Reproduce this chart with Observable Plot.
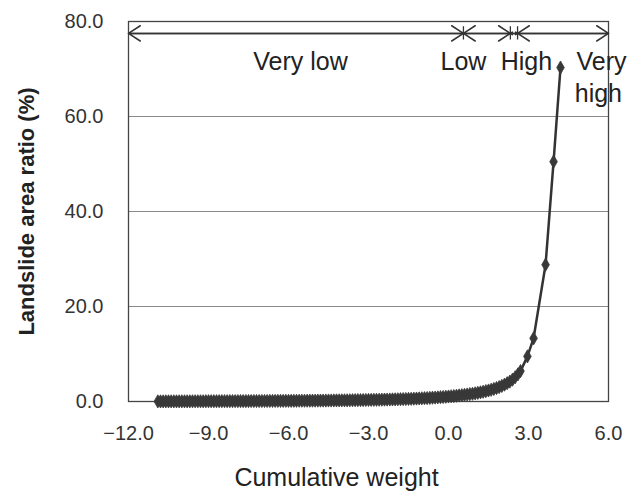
<!DOCTYPE html>
<html><head><meta charset="utf-8">
<script src="https://cdn.jsdelivr.net/npm/d3@7"></script>
<script src="https://cdn.jsdelivr.net/npm/@observablehq/plot@0.6"></script>
<style>html,body{margin:0;padding:0;background:#fff;}</style>
</head><body><div id="chart"></div>
<script>
const weight = [
-10.9,-10.8,-10.7,-10.6,-10.5,-10.4,-10.3,-10.2,-10.1,-10.0,
-9.9,-9.8,-9.7,-9.6,-9.5,-9.4,-9.3,-9.2,-9.1,-9.0,
-8.9,-8.8,-8.7,-8.6,-8.5,-8.4,-8.3,-8.2,-8.1,-8.0,
-7.9,-7.8,-7.7,-7.6,-7.5,-7.4,-7.3,-7.2,-7.1,-7.0,
-6.9,-6.8,-6.7,-6.6,-6.5,-6.4,-6.3,-6.2,-6.1,-6.0,
-5.9,-5.8,-5.7,-5.6,-5.5,-5.4,-5.3,-5.2,-5.1,-5.0,
-4.9,-4.8,-4.7,-4.6,-4.5,-4.4,-4.3,-4.2,-4.1,-4.0,
-3.9,-3.8,-3.7,-3.6,-3.5,-3.4,-3.3,-3.2,-3.1,-3.0,
-2.9,-2.8,-2.7,-2.6,-2.5,-2.4,-2.3,-2.2,-2.1,-2.0,
-1.9,-1.8,-1.7,-1.6,-1.5,-1.4,-1.3,-1.2,-1.1,-1.0,
-0.9,-0.8,-0.7,-0.6,-0.5,-0.4,-0.3,-0.2,-0.1,0.0,
0.1,0.2,0.3,0.4,0.5,0.6,0.7,0.8,0.9,1.0,
1.1,1.2,1.3,1.4,1.5,1.6,1.7,1.8,1.9,2.0,
2.1,2.2,2.3,2.4,2.5,2.6,2.7,
2.96,3.19,3.64,3.94,4.2];
const ratio = [
0.02,0.02,0.02,0.03,0.03,0.03,0.03,0.03,0.04,0.04,
0.04,0.04,0.04,0.05,0.05,0.05,0.05,0.05,0.06,0.06,
0.06,0.06,0.06,0.07,0.07,0.07,0.07,0.08,0.08,0.08,
0.08,0.09,0.09,0.09,0.09,0.10,0.10,0.10,0.10,0.11,
0.11,0.11,0.12,0.12,0.12,0.13,0.13,0.13,0.14,0.14,
0.14,0.15,0.15,0.16,0.16,0.16,0.17,0.17,0.18,0.18,
0.19,0.19,0.20,0.20,0.21,0.21,0.22,0.23,0.23,0.24,
0.25,0.25,0.26,0.27,0.28,0.29,0.30,0.31,0.32,0.33,
0.34,0.35,0.36,0.37,0.38,0.40,0.41,0.42,0.44,0.45,
0.47,0.49,0.51,0.53,0.55,0.57,0.59,0.62,0.64,0.67,
0.70,0.73,0.76,0.80,0.83,0.87,0.91,0.95,1.00,1.05,
1.10,1.15,1.21,1.27,1.33,1.40,1.47,1.55,1.63,1.72,
1.82,1.93,2.05,2.18,2.32,2.47,2.64,2.83,3.04,3.28,
3.55,3.85,4.2,4.6,5.1,5.7,6.4,
9.5,13.3,28.8,50.5,70.3];
const xTicks = [-12,-9,-6,-3,0,3,6];
const yTicks = [0,20,40,60,80];
const zoneBounds = [-12, 0.56, 2.32, 2.59, 6];
const zoneLabels = ["Very low","Low","High","Very","high"];
const labelWeight = [-5.55, 0.56, 2.92, 5.74, 5.62];
const labelRatio = [71.4, 71.4, 71.4, 71.4, 64.8];
const arrowRatio = [77.5];
const xTitle = "Cumulative weight";
const yTitle = "Landslide area ratio (%)";

const points = weight.map((w, i) => ({w, r: ratio[i]}));
const segs = zoneBounds.slice(1).map((b, i) => ({a: zoneBounds[i], b}));
const arrows = segs.flatMap(s => [{x1: s.a, x2: s.b, y: arrowRatio[0]}, {x1: s.b, x2: s.a, y: arrowRatio[0]}]);
const ticksZ = zoneBounds.slice(1, -1).map(b => ({x: b, y1: arrowRatio[0] - 1.4, y2: arrowRatio[0] + 1.4}));
const labels = zoneLabels.map((t, i) => ({t, x: labelWeight[i], y: labelRatio[i]}));
const fmt = d3.format(".1f");

const chart = Plot.plot({
  width: 641, height: 496,
  marginLeft: 128, marginRight: 33, marginTop: 21, marginBottom: 95,
  style: {fontFamily: "'Liberation Sans', Arial, sans-serif", fontSize: "20px", color: "#333", background: "#fff"},
  x: {domain: [-12, 6], ticks: xTicks, tickFormat: fmt, tickSize: 0, tickPadding: 24, label: null},
  y: {domain: [0, 80], ticks: yTicks, tickFormat: fmt, tickSize: 0, tickPadding: 25, label: null},
  marks: [
    Plot.ruleY(yTicks.filter(v => v > 0 && v < 80), {stroke: "#8a8a8a", strokeWidth: 1.2}),
    Plot.frame({stroke: "#444", strokeWidth: 1.3}),
    Plot.arrow(arrows, {x1: "x1", x2: "x2", y1: "y", y2: "y", stroke: "#333", strokeWidth: 1.5, headAngle: 66, headLength: 14}),
    Plot.ruleX(ticksZ, {x: "x", y1: "y1", y2: "y2", stroke: "#333", strokeWidth: 1.3}),
    Plot.line(points, {x: "w", y: "r", stroke: "#333", strokeWidth: 2.5}),
    Plot.dot(points, {x: "w", y: "r", symbol: "diamond", r: 4, fill: "#383838", stroke: "#383838", strokeWidth: 0.8}),
    Plot.text(labels, {x: "x", y: "y", text: "t", fontSize: 25, fill: "#222"}),
    Plot.text([xTitle], {text: d => d, frameAnchor: "bottom", dx: -32, dy: 84, fontSize: 25, fill: "#222"}),
    Plot.text([yTitle], {text: d => d, frameAnchor: "left", textAnchor: "middle", dx: -102, rotate: -90, fontSize: 22, fontWeight: "bold", fill: "#222"})
  ]
});
document.getElementById("chart").append(chart);
</script>
</body></html>
